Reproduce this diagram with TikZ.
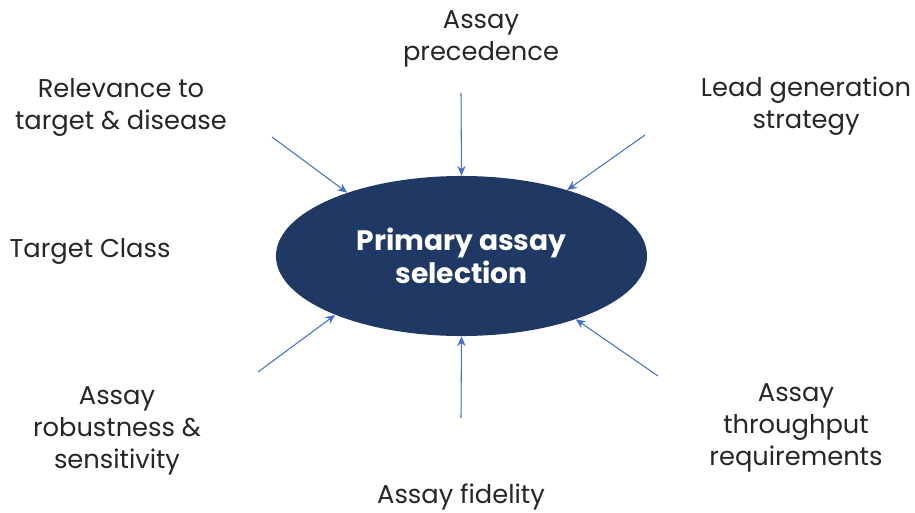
\documentclass[tikz,border=0pt]{standalone}
\usepackage{fontspec}
\setmainfont{Poppins}
\usetikzlibrary{shapes.geometric,arrows.meta}
\definecolor{navy}{HTML}{1F3864}
\definecolor{arrowblue}{HTML}{4472C4}
\definecolor{labelgray}{HTML}{262626}
\begin{document}
\begin{tikzpicture}[x=0.025cm, y=-0.025cm,
    factor/.style={align=center, text=labelgray, font=\fontsize{18.3}{22.7}\selectfont},
    hub/.style={ellipse, fill=navy, text=white, inner sep=0pt,
      minimum width=9.275cm, minimum height=4cm, align=center,
      font=\bfseries\fontsize{20}{23.4}\selectfont},
    arr/.style={arrowblue, line width=0.75pt, -{Stealth[length=7pt, width=6pt]}}]
  \useasboundingbox (0,0) rectangle (915,513);
  % centre
  \node[hub] (sel) at (461.5,256) {Primary assay\\selection};
  % factors round it
  \node[factor] (prec) at (481,39) {Assay\\precedence};
  \node[factor] (relev) at (121,107) {Relevance to\\target \& disease};
  \node[factor] (lead) at (806,106) {Lead generation\\strategy};
  \node[factor] (tclass) at (90,251) {Target Class};
  \node[factor] (robust) at (117,431) {Assay\\robustness \&\\sensitivity};
  \node[factor] (through) at (796,428) {Assay\\throughput\\requirements};
  \node[factor] (fidel) at (461,497) {Assay fidelity};
  % arrow tails
  \coordinate (tl) at (272,137);
  \coordinate (tc) at (461,93);
  \coordinate (tr) at (645,135);
  \coordinate (bl) at (258,372);
  \coordinate (bc) at (461,418);
  \coordinate (br) at (658,376);
  \foreach \from/\ang in {tl/151, tc/90, tr/32, bl/205.5, bc/270, br/331.6}{
      \draw[arr] (\from) -- (sel.\ang);
  }
\end{tikzpicture}
\end{document}
